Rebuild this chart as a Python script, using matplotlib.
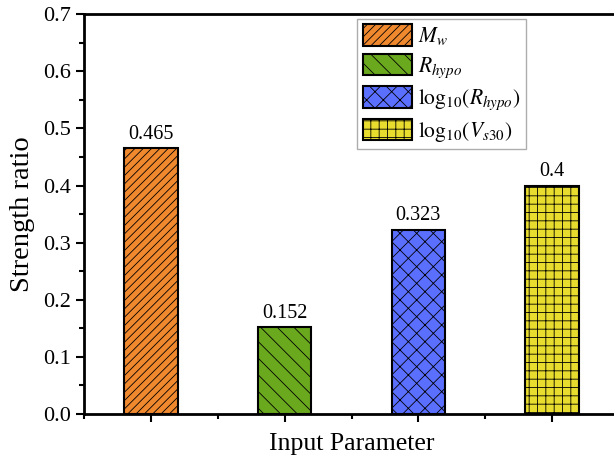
import matplotlib
matplotlib.use("Agg")
import matplotlib.pyplot as plt
from matplotlib.ticker import MultipleLocator, FixedLocator, FormatStrFormatter

plt.rcParams['font.family'] = ['Liberation Serif', 'DejaVu Serif']
plt.rcParams['mathtext.fontset'] = 'stix'
plt.rcParams['hatch.linewidth'] = 0.6

params = [r'$M_w$', r'$R_{hypo}$', r'$\mathrm{log}_{10}(R_{hypo})$', r'$\mathrm{log}_{10}(V_{s30})$']
ratios = [0.465, 0.152, 0.323, 0.4]
value_labels = ['0.465', '0.152', '0.323', '0.4']
colors = ['#F0882E', '#6AA81E', '#5B6FFF', '#E8DC2E']
hatches = ['////', '\\\\', 'xx', '++']

fig = plt.figure(figsize=(6.14, 4.58), dpi=100)
ax = fig.add_axes([0.137, 0.096, 0.871, 0.873])

xpos = [1, 2, 3, 4]
for x, v, c, h, lab in zip(xpos, ratios, colors, hatches, params):
    ax.bar(x, v, width=0.4, color=c, edgecolor='black', linewidth=1.5,
           hatch=h, label=lab)

for x, v, t in zip(xpos, ratios, value_labels):
    ax.text(x, v + 0.008, t, ha='center', va='bottom', fontsize=14.5)

ax.set_xlim(0.5, 4.5)
ax.set_ylim(0, 0.7)
ax.yaxis.set_major_locator(MultipleLocator(0.1))
ax.yaxis.set_minor_locator(MultipleLocator(0.05))
ax.xaxis.set_major_locator(FixedLocator(xpos))
ax.xaxis.set_minor_locator(FixedLocator([0.5, 1.5, 2.5, 3.5]))
ax.set_xticklabels([])
ax.yaxis.set_major_formatter(FormatStrFormatter('%.1f'))
ax.tick_params(axis='both', which='major', direction='out', length=6, width=1.5, labelsize=16)
ax.tick_params(axis='both', which='minor', direction='out', length=3.5, width=1.5)
for s in ax.spines.values():
    s.set_linewidth(2)
ax.spines['right'].set_visible(False)

ax.set_ylabel('Strength ratio', fontsize=20.5, labelpad=6)
ax.set_xlabel('Input Parameter', fontsize=18.5, labelpad=4)

leg = ax.legend(loc='upper left', bbox_to_anchor=(0.511, 0.988), fontsize=15.5,
                frameon=True, fancybox=False, edgecolor='#999999',
                handlelength=2.3, handleheight=1.15, handletextpad=0.25,
                labelspacing=0.3, borderpad=0.25, borderaxespad=0)
leg.get_frame().set_linewidth(1)

fig.savefig('out.png', dpi=100)
